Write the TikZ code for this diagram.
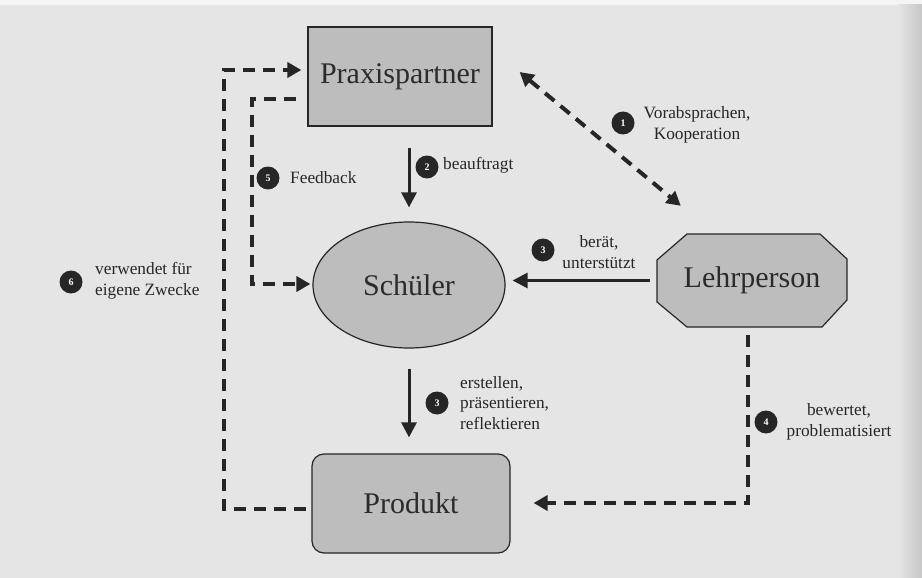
\documentclass[tikz,border=0pt]{standalone}
\usepackage{fontspec}
\setmainfont{Liberation Serif}
\usetikzlibrary{arrows.meta,calc,shapes.geometric}
\definecolor{bg}{HTML}{E5E5E5}
\definecolor{boxfill}{HTML}{BDBDBD}
\definecolor{ink}{HTML}{262626}
\definecolor{txt}{HTML}{2B2B2B}
\tikzset{
  bigtext/.style={font=\fontsize{30}{34}\selectfont, text=txt, inner sep=0pt},
  boxstyle/.style={draw=ink, line width=1.2pt, fill=boxfill},
  lbl/.style={font=\fontsize{17.3}{20.5}\selectfont, text=ink, inner sep=0pt},
  numc/.style={circle, fill=ink, text=white, minimum size=23pt, inner sep=0pt,
    font=\bfseries\fontsize{10}{10}\selectfont},
  sarr/.style={draw=ink, line width=3pt, -{Triangle[length=15pt,width=15pt]}},
  darr/.style={draw=ink, line width=4pt, dash pattern=on 12pt off 8pt,
    -{Triangle[length=14pt,width=15pt]}},
  ddarr/.style={draw=ink, line width=4pt, dash pattern=on 12pt off 8pt,
    {Triangle[length=14pt,width=15pt]}-{Triangle[length=14pt,width=15pt]}},
}
\begin{document}
\begin{tikzpicture}[x=1pt,y=-1pt]
  \useasboundingbox (0,0) rectangle (922,578);
  % paper background
  \fill[bg] (0,0) rectangle (922,578);
  \fill[white!96!black] (0,0) rectangle (922,5);
  \shade[left color=bg, right color=black!22] (898,5) rectangle (922,578);

  % Praxispartner
  \node[boxstyle, bigtext, rectangle, minimum width=184pt, minimum height=99pt]
    (pp) at (400,76.5) {Praxispartner};
  % Schueler
  \node[boxstyle, bigtext, ellipse, minimum width=192pt, minimum height=126pt]
    (sch) at (409,285) {Schüler};
  % Lehrperson (octagon)
  \fill[boxfill, draw=ink, line width=1.2pt]
    (687,234) -- (820,234) -- (847,259) -- (847,300) -- (822,327)
    -- (687,327) -- (657,302) -- (657,260) -- cycle;
  \node[bigtext, rectangle, minimum width=190pt, minimum height=93pt]
    (lp) at (752,280.5) {Lehrperson};
  % Produkt
  \node[boxstyle, bigtext, rectangle, rounded corners=12pt,
    minimum width=198pt, minimum height=99pt] (prod) at (411,503.5) {Produkt};

  % 2 beauftragt
  \draw[sarr, shorten <=21pt, shorten >=14pt] (sch.north |- pp.south) -- (sch.north);
  \node[numc] (n2) at (427,167) {2};
  \node[lbl, anchor=west] (l2) at (443,165) {beauftragt};

  % 1 Vorabsprachen
  \coordinate (v1) at ($(pp.east)+(27,-4.5)$);
  \coordinate (v2) at ($(lp.north west)+(24,-28)$);
  \draw[ddarr] (v1) -- (v2);
  \node[numc] (n1) at (623,123) {1};
  \node[lbl, align=center] (l1) at (697,125) {Vorabsprachen,\\Kooperation};

  % 5 Feedback
  \coordinate (fb1) at (252,99);
  \coordinate (fb2) at (252,284);
  \draw[darr, shorten <=11pt, shorten >=2pt] ($(pp.west)+(0,22.5)$) -- (fb1) -- (fb2) -- (sch.west |- fb2);
  \node[numc] (n5) at (268,178) {5};
  \node[lbl, anchor=west] (l5) at (290,178) {Feedback};

  % 6 verwendet
  \coordinate (o1) at (224,509);
  \coordinate (o2) at (224,70);
  \draw[darr, shorten <=5pt, shorten >=6pt] ($(prod.west)+(0,5.5)$) -- (o1) -- (o2) -- (pp.west |- o2);
  \node[numc] (n6) at (71,282) {6};
  \node[lbl, anchor=west, align=left] (l6) at (95,281) {verwendet für\\eigene Zwecke};

  % 3 beraet
  \draw[sarr, shorten <=7pt, shorten >=7pt] (lp.west) -- (lp.west -| sch.east);
  \node[numc] (n3a) at (543,250) {3};
  \node[lbl, align=center] (l3a) at (599,252) {berät,\\unterstützt};

  % 3 erstellen
  \draw[sarr, shorten <=20pt, shorten >=16pt] (sch.south) -- (sch.south |- prod.north);
  \node[numc] (n3b) at (437,403) {3};
  \node[lbl, anchor=west, align=left] (l3b) at (460,403) {erstellen,\\präsentieren,\\reflektieren};

  % 4 bewertet
  \coordinate (b0) at (748,327);
  \coordinate (b1) at (748,503);
  \draw[darr, shorten <=8pt, shorten >=23pt] (b0) -- (b1) -- (b1 -| prod.east);
  \node[numc] (n4) at (766,422) {4};
  \node[lbl, align=center] (l4) at (839,422) {bewertet,\\problematisiert};
\end{tikzpicture}
\end{document}
